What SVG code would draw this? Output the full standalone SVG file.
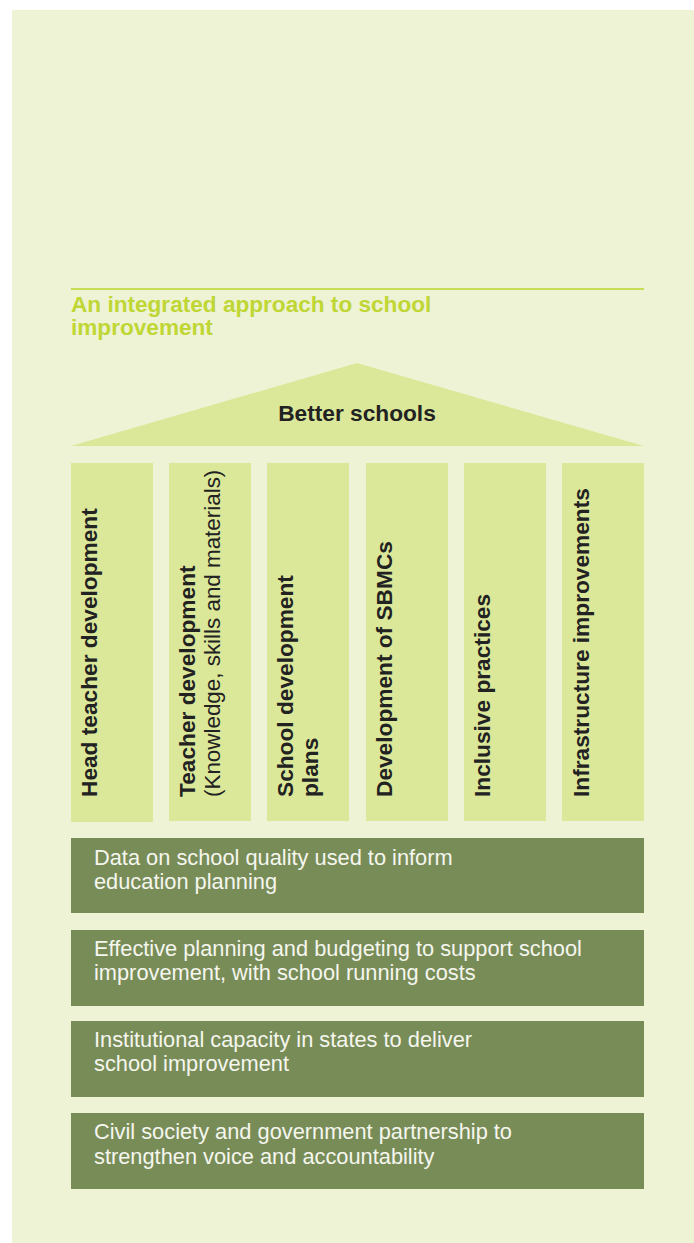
<svg xmlns="http://www.w3.org/2000/svg" width="694" height="1243" viewBox="0 0 694 1243">
<style>
.bg{fill:#eef3d5}
.pl{fill:#dce899}
.bx{fill:#788c58}
.ttl{font-family:"Liberation Sans",Arial,sans-serif;font-weight:bold;font-size:22.6px;fill:#bfd634}
.pt{font-family:"Liberation Sans",Arial,sans-serif;font-weight:bold;font-size:22.7px;fill:#222222}
.pr{font-family:"Liberation Sans",Arial,sans-serif;font-weight:normal;font-size:22.4px;fill:#222222}
.bt{font-family:"Liberation Sans",Arial,sans-serif;font-size:21.8px;fill:#f5f6ee}
</style>
<rect class="bg" x="12" y="10" width="682" height="1233"/>
<line x1="71" y1="289" x2="644" y2="289" stroke="#c8dc55" stroke-width="2"/>
<text class="ttl" x="71" y="312">An integrated approach to school</text>
<text class="ttl" x="71" y="335">improvement</text>
<g id="roof">
<polygon class="pl" points="357,363 644,446 71,446"/>
<text class="pt" x="357" y="421" text-anchor="middle">Better schools</text>
</g>
<g id="p1">
<rect class="pl" x="71" y="463" width="82" height="359"/>
<text class="pt" transform="translate(97,797) rotate(-90)">Head teacher development</text>
</g>
<g id="p2">
<rect class="pl" x="169" y="463" width="82" height="358"/>
<text class="pt" transform="translate(195,797) rotate(-90)">Teacher development</text>
<text class="pr" transform="translate(220,797) rotate(-90)">(Knowledge, skills and materials)</text>
</g>
<g id="p3">
<rect class="pl" x="267" y="463" width="82" height="358"/>
<text class="pt" transform="translate(293,797) rotate(-90)">School development</text>
<text class="pt" transform="translate(318,797) rotate(-90)">plans</text>
</g>
<g id="p4">
<rect class="pl" x="366" y="463" width="82" height="358"/>
<text class="pt" transform="translate(392,797) rotate(-90)">Development of SBMCs</text>
</g>
<g id="p5">
<rect class="pl" x="464" y="463" width="82" height="358"/>
<text class="pt" transform="translate(490,797) rotate(-90)">Inclusive practices</text>
</g>
<g id="p6">
<rect class="pl" x="562" y="463" width="82" height="358"/>
<text class="pt" transform="translate(589,797) rotate(-90)">Infrastructure improvements</text>
</g>
<g id="b1">
<rect class="bx" x="71" y="838" width="573" height="75"/>
<text class="bt" x="94" y="865">Data on school quality used to inform</text>
<text class="bt" x="94" y="889">education planning</text>
</g>
<g id="b2">
<rect class="bx" x="71" y="930" width="573" height="76"/>
<text class="bt" x="94" y="956">Effective planning and budgeting to support school</text>
<text class="bt" x="94" y="980">improvement, with school running costs</text>
</g>
<g id="b3">
<rect class="bx" x="71" y="1021" width="573" height="76"/>
<text class="bt" x="94" y="1047">Institutional capacity in states to deliver</text>
<text class="bt" x="94" y="1071">school improvement</text>
</g>
<g id="b4">
<rect class="bx" x="71" y="1113" width="573" height="76"/>
<text class="bt" x="94" y="1139">Civil society and government partnership to</text>
<text class="bt" x="94" y="1164">strengthen voice and accountability</text>
</g>
<g id="connectors"></g>
</svg>
